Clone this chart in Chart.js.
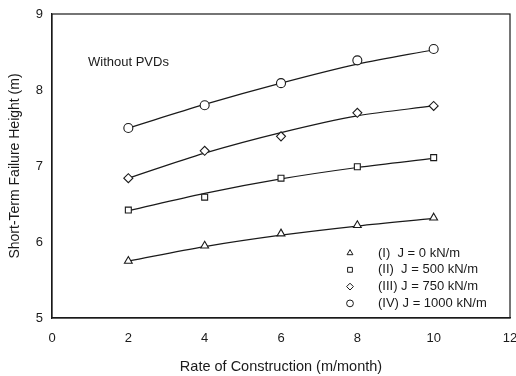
<!DOCTYPE html>
<html>
<head>
<meta charset="utf-8">
<script src="https://cdn.jsdelivr.net/npm/chart.js@4/dist/chart.umd.min.js"></script>
<style>
  html, body { margin: 0; padding: 0; background: #fff; }
  #wrap { width: 516px; height: 376px; }
</style>
</head>
<body>
<div id="wrap"><canvas id="chart" width="516" height="376"></canvas></div>
<script>
const rates = [2, 4, 6, 8, 10];

// measured points
const caseI = [5.75, 5.95, 6.11, 6.22, 6.32];
const caseII = [6.42, 6.59, 6.84, 6.99, 7.11];
const caseIII = [6.84, 7.20, 7.39, 7.70, 7.79];
const caseIV = [7.50, 7.80, 8.09, 8.39, 8.54];

// fitted trend lines
const fitI = [5.75, 5.94, 6.09, 6.21, 6.31];
const fitII = [6.41, 6.64, 6.83, 6.98, 7.10];
const fitIII = [6.84, 7.17, 7.44, 7.66, 7.79];
const fitIV = [7.50, 7.81, 8.09, 8.34, 8.53];

const legendLabels = ["(I)  J = 0 kN/m", "(II)  J = 500 kN/m", "(III) J = 750 kN/m", "(IV) J = 1000 kN/m"];
const markerStyles = ['triangle', 'rect', 'rectRot', 'circle'];

const FONT = "'Liberation Sans', Arial, sans-serif";
const INK = '#1a1a1a';

const toXY = (ys) => ys.map((y, i) => ({x: rates[i], y: y}));

const pointSet = function (data, style) {
    return {
        data: toXY(data),
        showLine: false,
        pointStyle: style,
        pointRadius: style === 'rect' ? 4.2 : 4.5,
        pointBackgroundColor: '#fff',
        pointBorderColor: INK,
        pointBorderWidth: 1.1,
        order: 0,
    };
};

const lineSet = function (data) {
    return {
        data: toXY(data),
        showLine: true,
        borderColor: INK,
        borderWidth: 1.2,
        pointRadius: 0,
        cubicInterpolationMode: 'monotone',
        order: 1,
    };
};

const boxAndNotes = {
    id: 'boxAndNotes',
    afterDatasetsDraw(chart) {
        const ctx = chart.ctx;
        const a = chart.chartArea;
        ctx.save();
        ctx.strokeStyle = INK;
        ctx.lineWidth = 1.2;
        ctx.strokeRect(a.left, a.top, a.right - a.left, a.bottom - a.top);

        ctx.fillStyle = INK;
        ctx.font = "13px " + FONT;
        ctx.textBaseline = 'middle';
        ctx.fillText("Without PVDs", a.left + 36, a.top + 48);

        legendLabels.forEach((label, i) => {
            const y = a.top + 239 + i * 16.8;
            ctx.fillStyle = '#fff';
            ctx.strokeStyle = INK;
            ctx.lineWidth = 1;
            Chart.helpers.drawPoint(ctx, {
                pointStyle: markerStyles[i],
                radius: 3.4,
                borderWidth: 1,
                rotation: 0,
            }, a.left + 298, y);
            ctx.fillStyle = INK;
            ctx.fillText(label, a.left + 326, y);
        });
        ctx.restore();
    }
};

new Chart(document.getElementById('chart'), {
    type: 'scatter',
    data: {
        datasets: [
            lineSet(fitI), lineSet(fitII), lineSet(fitIII), lineSet(fitIV),
            pointSet(caseI, 'triangle'), pointSet(caseII, 'rect'),
            pointSet(caseIII, 'rectRot'), pointSet(caseIV, 'circle'),
        ]
    },
    options: {
        responsive: false,
        animation: false,
        layout: { padding: { left: 0, right: 6, top: 14, bottom: 0 } },
        plugins: {
            legend: { display: false },
            tooltip: { enabled: false },
        },
        scales: {
            x: {
                type: 'linear',
                min: 0,
                max: 12,
                ticks: { stepSize: 2, color: INK, font: { family: FONT, size: 13 }, padding: 9 },
                grid: { display: false, drawTicks: true, tickLength: 4, tickColor: INK },
                border: { color: INK, width: 1.2 },
                title: {
                    display: true,
                    text: 'Rate of Construction (m/month)',
                    color: INK,
                    font: { family: FONT, size: 14.5 },
                    padding: { top: 6, bottom: 0 },
                },
                afterFit(scale) {
                    scale.height = 58;
                    // let the "12" run off the edge like the original
                    scale.paddingRight = 0;
                },
            },
            y: {
                min: 5,
                max: 9,
                ticks: { stepSize: 1, color: INK, font: { family: FONT, size: 13 }, padding: 5 },
                grid: { display: false, drawTicks: true, tickLength: 4, tickColor: INK },
                border: { color: INK, width: 1.2 },
                title: {
                    display: true,
                    text: 'Short-Term Failure Height (m)',
                    color: INK,
                    font: { family: FONT, size: 14 },
                    padding: { top: 7, bottom: 4 },
                },
                afterFit(scale) { scale.width = 52; },
            },
        },
    },
    plugins: [boxAndNotes],
});
</script>
</body>
</html>
